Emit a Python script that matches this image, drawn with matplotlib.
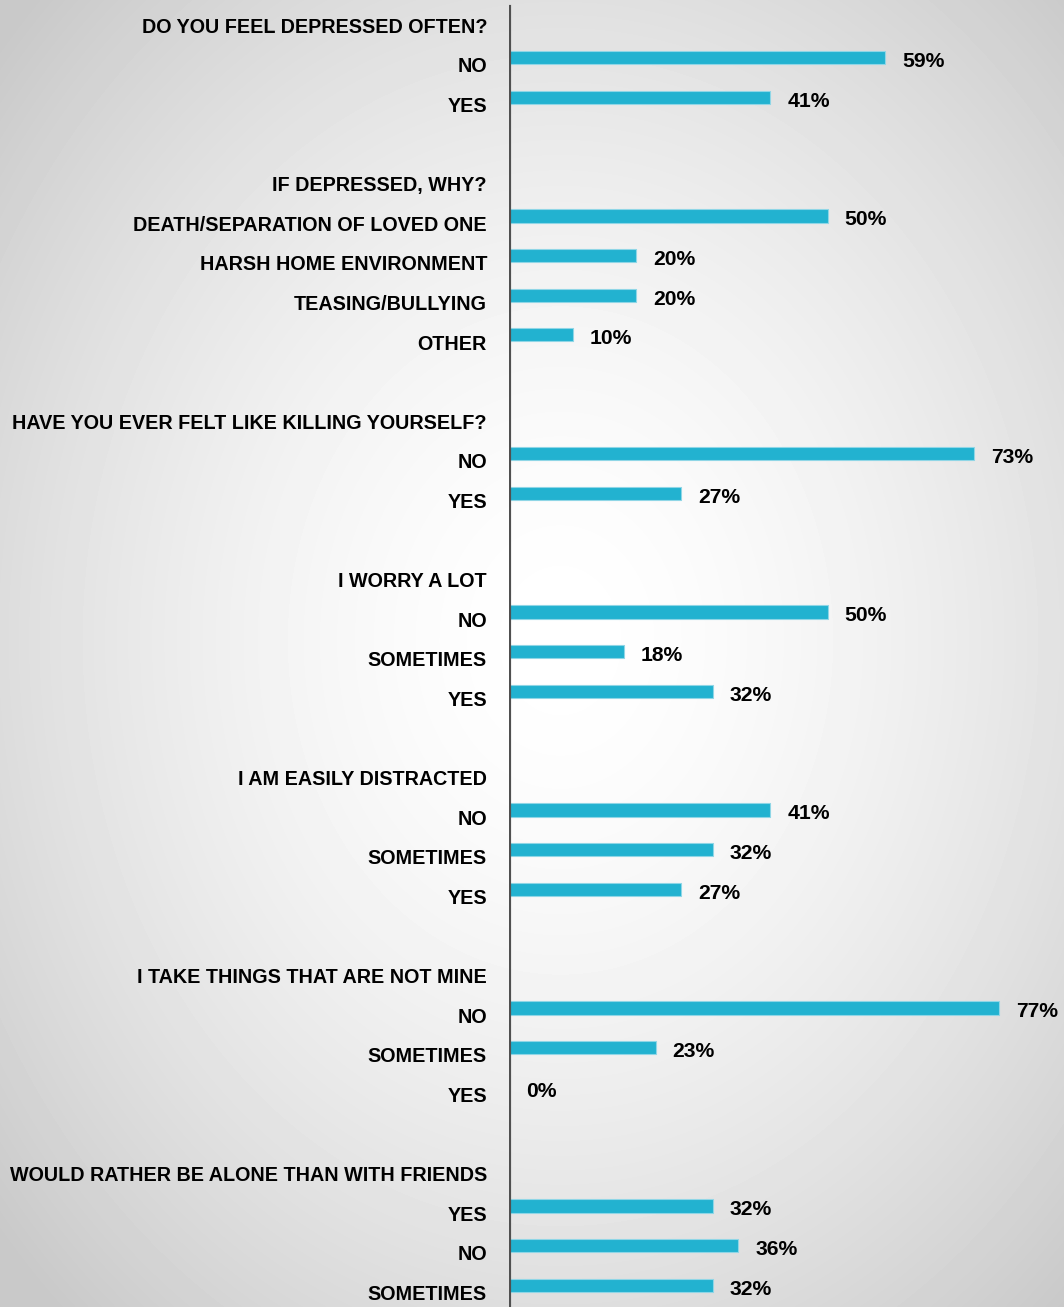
import numpy as np
import matplotlib.pyplot as plt

plt.rcParams['font.family'] = ['Liberation Sans Narrow', 'Liberation Sans', 'DejaVu Sans']
plt.rcParams['font.weight'] = 'bold'

# ========== data ==========
questions = [
    'DO YOU FEEL DEPRESSED OFTEN?',
    'IF DEPRESSED, WHY?',
    'HAVE YOU EVER FELT LIKE KILLING YOURSELF?',
    'I WORRY A LOT',
    'I AM EASILY DISTRACTED',
    'I TAKE THINGS THAT ARE NOT MINE',
    'WOULD RATHER BE ALONE THAN WITH FRIENDS',
]
answers = [
    ['NO', 'YES'],
    ['DEATH/SEPARATION OF LOVED ONE', 'HARSH HOME ENVIRONMENT', 'TEASING/BULLYING', 'OTHER'],
    ['NO', 'YES'],
    ['NO', 'SOMETIMES', 'YES'],
    ['NO', 'SOMETIMES', 'YES'],
    ['NO', 'SOMETIMES', 'YES'],
    ['YES', 'NO', 'SOMETIMES'],
]
percents = [
    [59, 41],
    [50, 20, 20, 10],
    [73, 27],
    [50, 18, 32],
    [41, 32, 27],
    [77, 23, 0],
    [32, 36, 32],
]

bar_color = '#22b2d0'
W, H = 1064, 1307
fig = plt.figure(figsize=(W / 100, H / 100), dpi=100)

# radial grey background
bg = fig.add_axes([0, 0, 1, 1])
yy, xx = np.mgrid[0:H, 0:W]
r = np.sqrt(((xx - 560) / 620.0) ** 2 + ((yy - 640) / 760.0) ** 2)
shade = 1.0 - 0.16 * np.clip(r, 0, 1.2) ** 1.6
bg.imshow(shade, cmap='gray', vmin=0, vmax=1, aspect='auto', interpolation='bilinear')
bg.axis('off')

ax = fig.add_axes([509 / W, 0, 1 - 509 / W, 1])
ax.patch.set_alpha(0)
ax.set_xlim(0, (W - 509) / 6.37)
step = 39.6
ax.set_ylim((H - 25) / step, -25 / step)
ax.axis('off')

fs = 14.2
row = 0
for q, opts, vals in zip(questions, answers, percents):
    ax.text(-22 / 6.37, row + 0.06, q, ha='right', va='center', fontsize=fs, clip_on=False)
    row += 1
    for o, v in zip(opts, vals):
        ax.text(-22 / 6.37, row + 0.06, o, ha='right', va='center', fontsize=fs, clip_on=False)
        ax.barh(row - 0.177, v, height=0.33, color=bar_color, edgecolor='#8fd6e6', linewidth=0.8)
        ax.text(v + 17 / 6.37, row - 0.08, f'{v}%', ha='left', va='center', fontsize=fs + 1)
        row += 1
    row += 1

ax.axvline(0, ymin=0, ymax=1 - 7 / H, color='#505050', linewidth=3)

fig.savefig('out.png', dpi=100)
